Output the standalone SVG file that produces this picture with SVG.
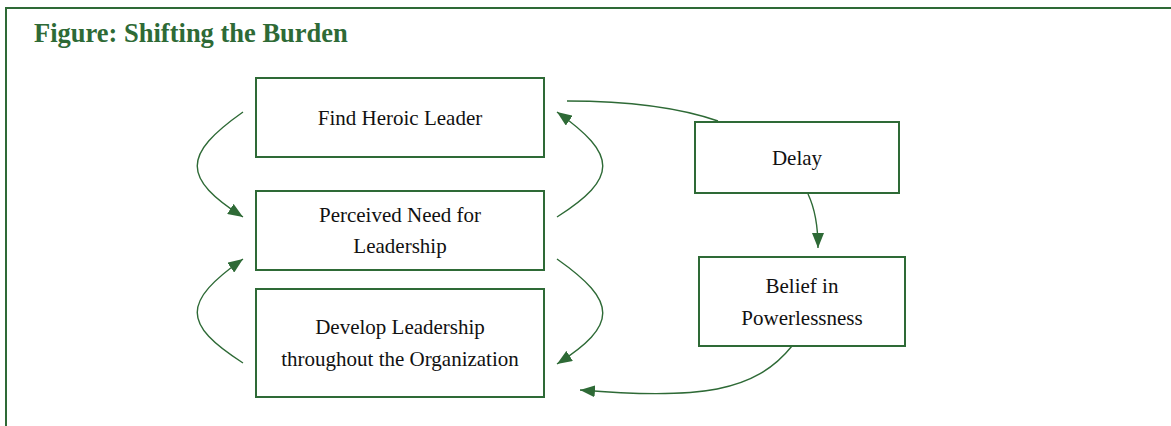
<svg xmlns="http://www.w3.org/2000/svg" width="1171" height="426" viewBox="0 0 1171 426">
  <style>
    .frame { fill: none; stroke: #2e6a36; stroke-width: 2; }
    .title { font-family: "Liberation Serif", "Times New Roman", serif; font-size: 26.5px; font-weight: bold; fill: #2e6a36; }
    .box { fill: #ffffff; stroke: #2e6a36; stroke-width: 2; }
    .label { font-family: "Liberation Serif", "Times New Roman", serif; font-size: 21px; fill: #111111; text-anchor: middle; }
    .link { fill: none; stroke: #2e6a36; stroke-width: 1.4; }
    .arrow { marker-end: url(#head); }
  </style>
  <defs>
    <marker id="head" markerUnits="userSpaceOnUse" viewBox="0 0 15 12" markerWidth="15" markerHeight="12" refX="15" refY="6" orient="auto">
      <path d="M0,0 L15,6 L0,12 Z" fill="#2e6a36"/>
    </marker>
  </defs>

  <!-- open frame: only top and left edges fall inside the canvas -->
  <rect class="frame" x="6" y="8" width="1200" height="500"/>
  <text class="title" x="34" y="42">Figure: Shifting the Burden</text>

  <g id="connectors">
    <!-- left loop: heroic leader -> perceived need -->
    <path class="link arrow" d="M243,112 C182,155 182,178 243,217"/>
    <!-- right loop: perceived need -> heroic leader -->
    <path class="link arrow" d="M557,217 C618,178 618,155 557,112"/>
    <!-- right loop: perceived need -> develop leadership -->
    <path class="link arrow" d="M557,259 C618,302 618,325 557,364"/>
    <!-- left loop: develop leadership -> perceived need -->
    <path class="link arrow" d="M243,363 C182,324 182,302 243,259"/>
    <!-- heroic leader -> delay (no head) -->
    <path class="link" d="M718,121 Q660,101 567,101"/>
    <!-- delay -> belief in powerlessness -->
    <path class="link arrow" d="M808,194 Q818,215 818,248"/>
    <!-- belief in powerlessness -> develop leadership -->
    <path class="link arrow" d="M792,346 C755,392 700,400 580,390"/>
  </g>

  <g id="find-heroic-leader">
    <rect class="box" x="256" y="78" width="288" height="79"/>
    <text class="label" x="400" y="125">Find Heroic Leader</text>
  </g>

  <g id="perceived-need">
    <rect class="box" x="256" y="191" width="288" height="79"/>
    <text class="label" x="400" y="222">Perceived Need for</text>
    <text class="label" x="400" y="253">Leadership</text>
  </g>

  <g id="develop-leadership">
    <rect class="box" x="256" y="289" width="288" height="108"/>
    <text class="label" x="400" y="334">Develop Leadership</text>
    <text class="label" x="400" y="366">throughout the Organization</text>
  </g>

  <g id="delay">
    <rect class="box" x="695" y="122" width="204" height="71"/>
    <text class="label" x="797" y="165">Delay</text>
  </g>

  <g id="belief-powerlessness">
    <rect class="box" x="699" y="257" width="206" height="89"/>
    <text class="label" x="802" y="293">Belief in</text>
    <text class="label" x="802" y="325">Powerlessness</text>
  </g>
</svg>
